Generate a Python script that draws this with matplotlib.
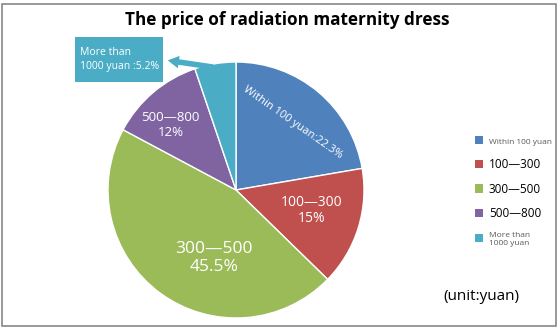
import numpy as np
import matplotlib.pyplot as plt
from matplotlib.patches import Patch, Rectangle

plt.rcParams['font.family'] = ['Open Sans', 'DejaVu Sans']

# price bands and their share (%)
categories = ['Within 100 yuan', '100—300', '300—500', '500—800', 'More than\n1000 yuan']
shares = [22.3, 15, 45.5, 12, 5.2]
colors = ['#4F81BD', '#C0504D', '#9BBB59', '#8064A2', '#4BACC6']

W, H = 560, 330
fig = plt.figure(figsize=(W / 100, H / 100), dpi=100)

# outer frame
fig.patches.append(Rectangle((2 / W, 4 / H), 554 / W, 322 / H, transform=fig.transFigure,
                             fill=False, edgecolor='#888888', linewidth=1.2))

fig.text(287 / W, 1 - 20 / H, 'The price of radiation maternity dress',
         ha='center', va='center', fontsize=12.3, fontweight='bold', color='black')

# pie axes: centre (236,190), radius 128 px
R = 128
ax = fig.add_axes([(236 - R) / W, (H - 190 - R) / H, 2 * R / W, 2 * R / H])
wedges, _ = ax.pie(shares, colors=colors, startangle=90, counterclock=False, radius=1,
                   wedgeprops=dict(edgecolor='white', linewidth=1))
ax.set_xlim(-1, 1)
ax.set_ylim(-1, 1)
ax.set_aspect('equal')
ax.axis('off')

mid = [np.deg2rad((w.theta1 + w.theta2) / 2) for w in wedges]

# in-slice labels: (slice, text, radius, angle nudge in deg, size, rotation)
inner = [
    (0, 'Within 100 yuan:%.1f%%' % shares[0], 0.69, 0, 8, -35),
    (1, '100—300\n%d%%' % shares[1], 0.61, 2, 10, 0),
    (2, '300—500\n%.1f%%' % shares[2], 0.56, 18, 12.5, 0),
    (3, '500—800\n%d%%' % shares[3], 0.72, 5, 9.5, 0),
]
for i, txt, r, da, size, rot in inner:
    a = mid[i] + np.deg2rad(da)
    ax.text(r * np.cos(a), r * np.sin(a), txt, ha='center', va='center', color='white',
            fontsize=size, rotation=rot, rotation_mode='anchor', linespacing=1.15)

# callout box for the smallest slice
fig.patches.append(Rectangle((75 / W, 1 - 82 / H), 88 / W, 45 / H, transform=fig.transFigure,
                             facecolor=colors[4], edgecolor='none'))
fig.text(80 / W, 1 - 59.5 / H, 'More than\n1000 yuan :%.1f%%' % shares[4], ha='left', va='center',
         color='white', fontsize=7.5, linespacing=1.35)
a = mid[4]
ax.annotate('', xy=(165, H - 60), xycoords='figure pixels',
            xytext=(0.97 * np.cos(a), 0.97 * np.sin(a)), textcoords='data',
            arrowprops=dict(arrowstyle='simple,head_width=0.9,head_length=0.8,tail_width=0.4',
                            facecolor=colors[4], edgecolor='none'))

# legend
handles = [Patch(facecolor=c) for c in colors]
leg = fig.legend(handles, categories, loc='upper left', bbox_to_anchor=(470 / W, 1 - 131 / H),
                 frameon=False, fontsize=8.5, handlelength=0.7, handleheight=0.7,
                 handletextpad=0.5, labelspacing=1.0, borderaxespad=0)
sizes = [6, 8.5, 8.5, 8.5, 6]
tcolors = ['#595959', 'black', 'black', 'black', '#595959']
for t, s, c in zip(leg.get_texts(), sizes, tcolors):
    t.set_fontsize(s)
    t.set_color(c)

fig.text(481 / W, 1 - 297 / H, '(unit:yuan)', ha='center', va='center', fontsize=11, color='black')

fig.savefig('out.png', dpi=100)
